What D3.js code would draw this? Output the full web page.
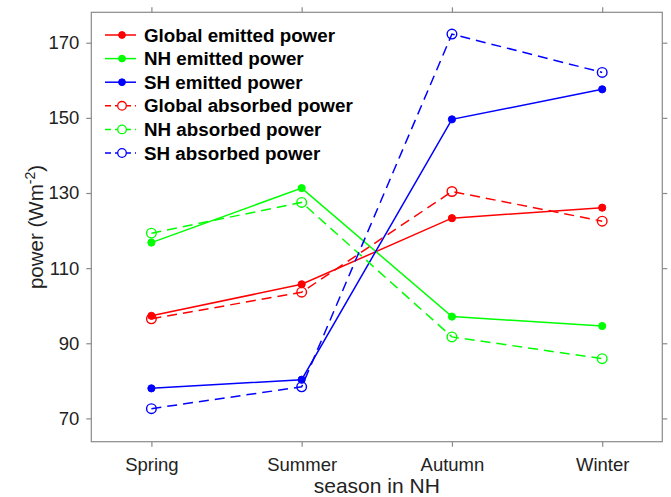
<!DOCTYPE html>
<html><head><meta charset="utf-8">
<script src="https://cdn.jsdelivr.net/npm/d3@7"></script>
<style>
html,body{margin:0;padding:0;background:#fff;}
svg{display:block;font-family:"Liberation Sans",Arial,Helvetica,sans-serif;}
</style></head>
<body>
<svg id="chart" width="671" height="497"></svg>
<script>
const seasons = ["Spring","Summer","Autumn","Winter"];
const yTicks = [70, 90, 110, 130, 150, 170];
const globalEmitted  = [97.3, 105.7, 123.3, 126.1];
const nhEmitted      = [116.8, 131.3, 97.1, 94.6];
const shEmitted      = [78.0, 80.3, 149.6, 157.6];
const globalAbsorbed = [96.5, 103.6, 130.4, 122.5];
const nhAbsorbed     = [119.3, 127.5, 91.7, 85.9];
const shAbsorbed     = [72.6, 78.4, 172.3, 162.1];
const seriesNames = ["Global emitted power","NH emitted power","SH emitted power",
                     "Global absorbed power","NH absorbed power","SH absorbed power"];

const series = [
  {name: seriesNames[0], values: globalEmitted,  color: "#ff0000", dashed: false},
  {name: seriesNames[1], values: nhEmitted,      color: "#00ff00", dashed: false},
  {name: seriesNames[2], values: shEmitted,      color: "#0000ff", dashed: false},
  {name: seriesNames[3], values: globalAbsorbed, color: "#ff0000", dashed: true},
  {name: seriesNames[4], values: nhAbsorbed,     color: "#00ff00", dashed: true},
  {name: seriesNames[5], values: shAbsorbed,     color: "#0000ff", dashed: true}
];

const svg = d3.select("#chart");
const L = 91.3, R = 662.3, T = 12.3, B = 441.7;
const x = d3.scaleLinear().domain([0.6, 4.4]).range([L, R]);
const y = d3.scaleLinear().domain([63.8, 178.1]).range([B, T]);
const axisColor = "#8a8a8a";
const textColor = "#222";
const tickFont = "18.5px";

// box
svg.append("rect").attr("x", L).attr("y", T).attr("width", R - L).attr("height", B - T)
  .attr("fill", "none").attr("stroke", axisColor).attr("stroke-width", 1.2);

const xVals = seasons.map((d, i) => i + 1);
function styleAxis(g){
  g.select(".domain").remove();
  g.selectAll(".tick line").attr("stroke", axisColor).attr("stroke-width", 1.2);
  g.selectAll(".tick text").attr("fill", textColor).style("font-size", tickFont);
}
// bottom axis
svg.append("g").attr("transform", `translate(0,${B})`)
  .call(d3.axisBottom(x).tickValues(xVals).tickFormat(d => seasons[d - 1]).tickSize(5).tickPadding(11))
  .call(styleAxis);
// top axis ticks
svg.append("g").attr("transform", `translate(0,${T})`)
  .call(d3.axisTop(x).tickValues(xVals).tickFormat("").tickSize(5))
  .call(styleAxis);
// left axis
svg.append("g").attr("transform", `translate(${L},0)`)
  .call(d3.axisLeft(y).tickValues(yTicks).tickSize(5).tickPadding(7))
  .call(styleAxis);
// right axis ticks
svg.append("g").attr("transform", `translate(${R},0)`)
  .call(d3.axisRight(y).tickValues(yTicks).tickFormat("").tickSize(5))
  .call(styleAxis);

// axis titles
svg.append("text").attr("x", (L + R) / 2).attr("y", 493).attr("text-anchor", "middle")
  .attr("fill", textColor).style("font-size", "21px").text("season in NH");
const yl = svg.append("text").attr("transform", `translate(43,${(T + B) / 2}) rotate(-90)`)
  .attr("text-anchor", "middle").attr("fill", textColor).style("font-size", "20.5px");
yl.append("tspan").text("power (Wm");
yl.append("tspan").attr("dy", -8).style("font-size", "14px").text("-2");
yl.append("tspan").attr("dy", 8).text(")");

// lines
const line = d3.line().x((d, i) => x(i + 1)).y(d => y(d));
const g = svg.append("g");
series.forEach(s => {
  g.append("path").datum(s.values).attr("d", line).attr("fill", "none")
    .attr("stroke", s.color).attr("stroke-width", 1.5)
    .attr("stroke-dasharray", s.dashed ? "10,6" : null);
  g.selectAll(null).data(s.values).enter().append("circle")
    .attr("cx", (d, i) => x(i + 1)).attr("cy", d => y(d))
    .attr("r", s.dashed ? 4.8 : 3.6)
    .attr("fill", s.dashed ? "none" : s.color)
    .attr("stroke", s.color).attr("stroke-width", s.dashed ? 1.4 : 1);
});

// legend
const lg = svg.append("g");
series.forEach((s, i) => {
  const cy = 35 + i * 23.6;
  lg.append("line").attr("x1", 105).attr("x2", 136).attr("y1", cy).attr("y2", cy)
    .attr("stroke", s.color).attr("stroke-width", 1.5)
    .attr("stroke-dasharray", s.dashed ? "6,4" : null);
  lg.append("circle").attr("cx", 122).attr("cy", cy).attr("r", s.dashed ? 4.3 : 3.4)
    .attr("fill", s.dashed ? "#fff" : s.color).attr("stroke", s.color).attr("stroke-width", s.dashed ? 1.3 : 1);
  lg.append("text").attr("x", 144).attr("y", cy + 6.5).attr("fill", "#000")
    .style("font-size", "18.8px").style("font-weight", "bold").text(s.name);
});
</script>
</body></html>
